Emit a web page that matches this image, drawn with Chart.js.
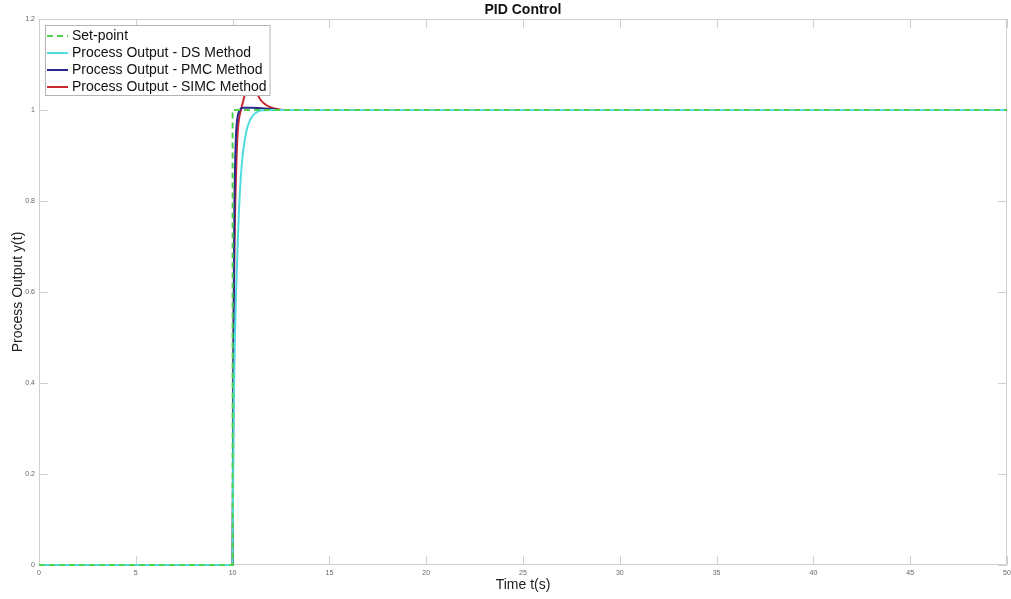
<!DOCTYPE html>
<html>
<head>
<meta charset="utf-8">
<title>PID Control</title>
<script src="https://cdn.jsdelivr.net/npm/chart.js@4.4.0/dist/chart.umd.min.js"></script>
<style>
  html, body { margin: 0; padding: 0; background: #ffffff; }
  #wrap { width: 1011px; height: 599px; }
</style>
</head>
<body>
<div id="wrap"><canvas id="c" width="1011" height="599"></canvas></div>
<script>
// Step set-point and closed-loop responses of the three PID tunings
const setpointT = [0, 10, 10, 50];
const setpointY = [0, 0, 1, 1];

const dsT = [0, 10, 10.03, 10.07, 10.12, 10.18, 10.25, 10.33, 10.42, 10.52, 10.65, 10.8, 11, 11.2, 11.45, 12, 50];
const dsY = [0, 0, 0.2, 0.38, 0.5, 0.6, 0.69, 0.78, 0.85, 0.9, 0.94, 0.967, 0.985, 0.994, 0.999, 1, 1];

const pmcT = [0, 10, 10.02, 10.04, 10.06, 10.09, 10.13, 10.18, 10.24, 10.3, 10.4, 10.55, 11, 11.5, 12, 12.5, 50];
const pmcY = [0, 0, 0.25, 0.45, 0.59, 0.78, 0.88, 0.95, 0.98, 0.993, 1.002, 1.005, 1.005, 1.004, 1.002, 1, 1];

const simcT = [0, 10, 10.03, 10.06, 10.1, 10.14, 10.2, 10.26, 10.33, 10.43, 10.55, 10.7, 10.85, 10.95, 11.1, 11.25, 11.45, 11.7, 11.95, 12.3, 12.7, 50];
const simcY = [0, 0, 0.3, 0.55, 0.7, 0.8, 0.89, 0.95, 0.98, 1, 1.02, 1.045, 1.058, 1.06, 1.052, 1.037, 1.022, 1.012, 1.006, 1.002, 1, 1];

const xTicks = [0, 5, 10, 15, 20, 25, 30, 35, 40, 45, 50];
const yTicks = [0, 0.2, 0.4, 0.6, 0.8, 1, 1.2];

const FONT = '"Liberation Sans", Arial, Helvetica, sans-serif';

function pts(t, y) { return t.map((v, i) => ({ x: v, y: y[i] })); }

// Axes box with inward tick marks on all four sides
const framePlugin = {
  id: 'frame',
  beforeDatasetsDraw(chart) {
    const { ctx, chartArea: a, scales } = chart;
    const len = 9;
    ctx.save();
    ctx.strokeStyle = '#cfcfcf';
    ctx.lineWidth = 1;
    ctx.beginPath();
    ctx.rect(Math.round(a.left) + 0.5, Math.round(a.top) + 0.5,
             Math.round(a.right - a.left) - 1, Math.round(a.bottom - a.top) - 1);
    ctx.stroke();
    ctx.beginPath();
    scales.x.ticks.forEach(t => {
      const px = Math.round(scales.x.getPixelForValue(t.value)) + 0.5;
      ctx.moveTo(px, a.bottom); ctx.lineTo(px, a.bottom - len);
      ctx.moveTo(px, a.top); ctx.lineTo(px, a.top + len);
    });
    scales.y.ticks.forEach(t => {
      const py = Math.round(scales.y.getPixelForValue(t.value)) + 0.5;
      ctx.moveTo(a.left, py); ctx.lineTo(a.left + len, py);
      ctx.moveTo(a.right, py); ctx.lineTo(a.right - len, py);
    });
    ctx.stroke();
    ctx.restore();
  }
};

// Boxed legend in the upper-left corner of the plot, drawn above the curves
const legendBoxPlugin = {
  id: 'legendBox',
  afterDraw(chart) {
    const { ctx, chartArea: a } = chart;
    const sets = chart.data.datasets;
    ctx.save();
    ctx.font = '14px ' + FONT;
    let maxW = 0;
    sets.forEach(d => { maxW = Math.max(maxW, ctx.measureText(d.label).width); });
    const left = Math.round(a.left) + 6, top = Math.round(a.top) + 6;
    const rowH = 17;
    const w = 27 + maxW + 4, h = 12 + rowH * (sets.length - 1) + 8;
    ctx.fillStyle = '#ffffff';
    ctx.fillRect(left, top, w, h);
    ctx.strokeStyle = '#b4b4b4';
    ctx.lineWidth = 1;
    ctx.strokeRect(left + 0.5, top + 0.5, w - 1, h - 1);
    sets.forEach((d, i) => {
      const cy = top + 11 + i * rowH;
      ctx.beginPath();
      ctx.setLineDash(d.borderDash || []);
      ctx.strokeStyle = d.borderColor;
      ctx.lineWidth = 2;
      ctx.moveTo(left + 2, cy); ctx.lineTo(left + 23, cy);
      ctx.stroke();
      ctx.setLineDash([]);
      ctx.fillStyle = '#111111';
      ctx.textBaseline = 'middle';
      ctx.textAlign = 'left';
      ctx.fillText(d.label, left + 27, cy);
    });
    ctx.restore();
  }
};

const lineBase = { borderWidth: 2, pointRadius: 0, fill: false, clip: false };

new Chart(document.getElementById('c'), {
  type: 'line',
  data: {
    datasets: [
      Object.assign({ label: 'Set-point', data: pts(setpointT, setpointY),
        borderColor: '#4fd34f', borderDash: [6, 4], tension: 0 }, lineBase),
      Object.assign({ label: 'Process Output - DS Method', data: pts(dsT, dsY),
        borderColor: '#4fdbe0', cubicInterpolationMode: 'monotone' }, lineBase),
      Object.assign({ label: 'Process Output - PMC Method', data: pts(pmcT, pmcY),
        borderColor: '#28288f', cubicInterpolationMode: 'monotone' }, lineBase),
      Object.assign({ label: 'Process Output - SIMC Method', data: pts(simcT, simcY),
        borderColor: '#c62a2f', cubicInterpolationMode: 'monotone' }, lineBase)
    ]
  },
  options: {
    responsive: false,
    animation: false,
    devicePixelRatio: 1,
    parsing: false,
    layout: { padding: { left: 0, right: 4, top: 0, bottom: 0 } },
    plugins: {
      legend: { display: false },
      tooltip: { enabled: false },
      title: {
        display: true, text: 'PID Control', fullSize: false,
        font: { size: 14, weight: 'bold', family: FONT }, color: '#111111',
        padding: { top: 1.6, bottom: 0.6 }
      }
    },
    scales: {
      x: {
        type: 'linear', min: 0, max: 50,
        afterFit(s) { s.height = 34; s.paddingLeft = 0; s.paddingRight = 0; },
        afterBuildTicks(s) { s.ticks = xTicks.map(v => ({ value: v })); },
        grid: { display: false, drawTicks: false },
        border: { display: false },
        ticks: { font: { size: 7, family: FONT }, color: '#666666', padding: 4, maxRotation: 0, autoSkip: false,
                 callback: v => String(v) },
        title: { display: true, text: 'Time t(s)', font: { size: 14, family: FONT }, color: '#222222',
                 padding: { top: 0, bottom: 5.6 } }
      },
      y: {
        type: 'linear', min: 0, max: 1.2,
        afterFit(s) { s.width = 39; s.paddingTop = 0; s.paddingBottom = 0; },
        afterBuildTicks(s) { s.ticks = yTicks.map(v => ({ value: v })); },
        grid: { display: false, drawTicks: false },
        border: { display: false },
        ticks: { font: { size: 7, family: FONT }, color: '#666666', padding: 4, autoSkip: false,
                 callback: v => String(v) },
        title: { display: true, text: 'Process Output y(t)', font: { size: 14, family: FONT }, color: '#222222',
                 padding: { top: 9.6, bottom: 0 } }
      }
    }
  },
  plugins: [framePlugin, legendBoxPlugin]
});
</script>
</body>
</html>
